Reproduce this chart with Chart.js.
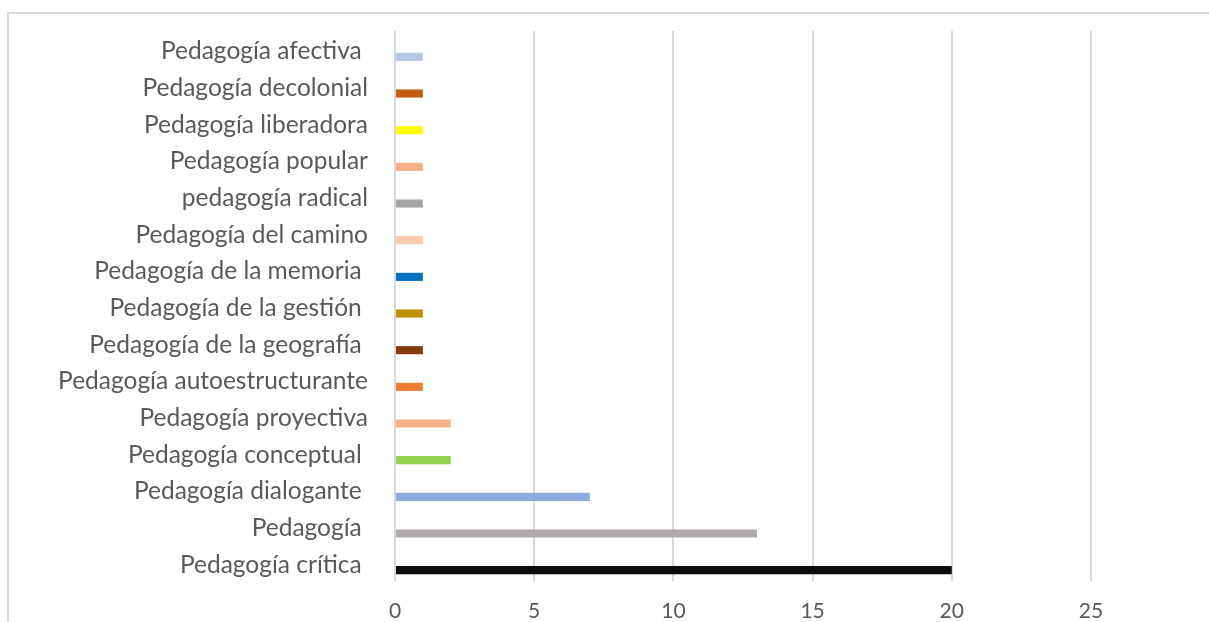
<!DOCTYPE html>
<html lang="es">
<head>
<meta charset="utf-8">
<script src="https://cdn.jsdelivr.net/npm/chart.js@4/dist/chart.umd.min.js"></script>
<style>
  html, body { margin: 0; padding: 0; background: #ffffff; }
  #wrap { position: relative; width: 1209px; height: 622px; overflow: hidden; }
  #frame { position: absolute; left: 7px; top: 12px; right: -4px; bottom: -4px;
           border-left: 2px solid #D9D9D9; border-top: 2px solid #D9D9D9; }
  canvas { position: absolute; left: 0; top: 0; }
</style>
</head>
<body>
<div id="wrap">
  <div id="frame"></div>
  <canvas id="chart" width="1209" height="622"></canvas>
</div>
<script>
// Categories, top to bottom (trailing spaces kept as in the source labels)
const categories = [
  'Pedagogía afectiva ',
  'Pedagogía decolonial',
  'Pedagogía liberadora',
  'Pedagogía popular',
  'pedagogía radical',
  'Pedagogía del camino',
  'Pedagogía de la memoria ',
  'Pedagogía de la gestión ',
  'Pedagogía de la geografía ',
  'Pedagogía autoestructurante',
  'Pedagogía proyectiva',
  'Pedagogía conceptual ',
  'Pedagogía dialogante ',
  'Pedagogía ',
  'Pedagogía crítica '
];

const counts = [1, 1, 1, 1, 1, 1, 1, 1, 1, 1, 2, 2, 7, 13, 20];

const barColors = [
  '#B4C7E7', '#C55A11', '#FFFF00', '#F4B183', '#A5A5A5',
  '#F8CBAD', '#0070C0', '#BF9000', '#843C0C', '#ED7D31',
  '#F4B183', '#92D050', '#8FAADC', '#AEAAAA', '#0D0D0D'
];

const xTicks = [0, 5, 10, 15, 20, 25];

const textColor = '#595959';
const gridColor = '#D9D9D9';
const labelFont = { family: 'Lato', size: 24.5 };
const tickFont = { family: 'Lato', size: 21 };

new Chart(document.getElementById('chart'), {
  type: 'bar',
  data: {
    labels: categories,
    datasets: [
      {
        // empty upper slot of each category group
        label: '',
        data: categories.map(() => null),
        backgroundColor: 'rgba(0,0,0,0)'
      },
      {
        label: 'Frecuencia',
        data: counts,
        backgroundColor: barColors,
        borderWidth: 0
      }
    ]
  },
  options: {
    indexAxis: 'y',
    responsive: false,
    animation: false,
    categoryPercentage: 0.82,
    barPercentage: 0.54,
    layout: { padding: { top: 31, right: 118, bottom: 0, left: 0 } },
    plugins: {
      legend: { display: false },
      tooltip: { enabled: false }
    },
    scales: {
      x: {
        min: 0,
        max: 25,
        afterBuildTicks: (axis) => { axis.ticks = xTicks.map(v => ({ value: v })); },
        afterFit: (axis) => { axis.height = 41; axis.paddingLeft = 0; axis.paddingRight = 0; },
        grid: { color: gridColor, lineWidth: 2, drawTicks: false },
        border: { display: false },
        ticks: {
          color: textColor,
          padding: 18,
          font: tickFont
        }
      },
      y: {
        grid: { display: false, drawTicks: false },
        border: { display: false },
        afterFit: (axis) => { axis.width = 395; axis.paddingTop = 0; axis.paddingBottom = 0; },
        ticks: {
          color: textColor,
          padding: 27,
          labelOffset: 2,
          autoSkip: false,
          font: labelFont
        }
      }
    }
  }
});
</script>
</body>
</html>
